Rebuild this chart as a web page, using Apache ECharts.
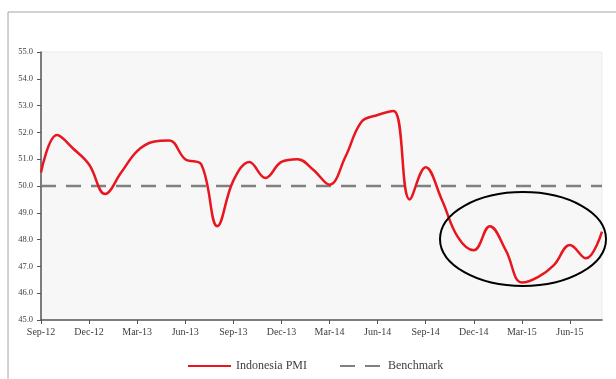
<!DOCTYPE html>
<html>
<head>
<meta charset="utf-8">
<script src="https://cdn.jsdelivr.net/npm/echarts@6/dist/echarts.min.js"></script>
<style>
  html, body { margin: 0; padding: 0; background: #fff; }
  #chart { width: 616px; height: 379px; }
</style>
</head>
<body>
<div id="chart"></div>
<script>
const months = [
  "Sep-12", "Oct-12", "Nov-12", "Dec-12", "Jan-13", "Feb-13", "Mar-13", "Apr-13", "May-13",
  "Jun-13", "Jul-13", "Aug-13", "Sep-13", "Oct-13", "Nov-13", "Dec-13", "Jan-14", "Feb-14",
  "Mar-14", "Apr-14", "May-14", "Jun-14", "Jul-14", "Aug-14", "Sep-14", "Oct-14", "Nov-14",
  "Dec-14", "Jan-15", "Feb-15", "Mar-15", "Apr-15", "May-15", "Jun-15", "Jul-15", "Aug-15"
]

const indonesiaPmi = [
  50.5, 51.9, 51.4, 50.8, 49.7, 50.5, 51.3, 51.65, 51.7,
  51.0, 50.8, 48.5, 50.2, 50.9, 50.3, 50.9, 51.0, 50.6,
  50.05, 51.1, 52.4, 52.65, 52.8, 49.5, 50.7, 49.5, 48.1,
  47.6, 48.5, 47.6, 46.4, 46.6, 47.05, 47.8, 47.3, 48.3
]

const benchmark = [
  50, 50, 50, 50, 50, 50, 50, 50, 50, 50, 50, 50,
  50, 50, 50, 50, 50, 50, 50, 50, 50, 50, 50, 50,
  50, 50, 50, 50, 50, 50, 50, 50, 50, 50, 50, 50
]

const chart = echarts.init(document.getElementById("chart"))

const font = "'Liberation Serif', serif"

const option = {
  backgroundColor: "#ffffff",
  animation: false,
  textStyle: { fontFamily: font },
  grid: {
    left: 41,
    right: 14,
    top: 52,
    bottom: 59,
    containLabel: false,
    outerBoundsMode: "none",
    show: true,
    backgroundColor: "#f7f7f7",
    borderColor: "#ebebeb",
    borderWidth: 1,
  },
  legend: {
    left: 182,
    top: 355,
    itemGap: 32,
    itemWidth: 43,
    itemHeight: 10,
    itemStyle: { opacity: 0 },
    textStyle: { fontFamily: font, fontSize: 12, color: "#404040" },
    data: ["Indonesia PMI", "Benchmark"],
  },
  xAxis: {
    type: "category",
    data: months,
    boundaryGap: false,
    axisLine: { lineStyle: { color: "#555555", width: 1.5 } },
    axisTick: { interval: 2, length: 4, lineStyle: { color: "#555555" } },
    axisLabel: {
      interval: 2,
      margin: 7,
      fontFamily: font,
      fontSize: 10,
      color: "#404040",
    },
    splitLine: { show: false },
  },
  yAxis: {
    type: "value",
    min: 45,
    max: 55,
    interval: 1,
    axisLine: { show: true, lineStyle: { color: "#555555", width: 1.5 } },
    axisTick: { show: true, length: 4, lineStyle: { color: "#555555" } },
    axisLabel: {
      margin: 8,
      fontFamily: font,
      fontSize: 8.5,
      color: "#404040",
      formatter: (v) => v.toFixed(1),
    },
    splitLine: { show: false },
  },
  series: [
    {
      name: "Indonesia PMI",
      type: "line",
      data: indonesiaPmi,
      smooth: 0.4,
      symbol: "none",
      lineStyle: { color: "#e8161e", width: 2.5 },
      itemStyle: { color: "#e8161e" },
      z: 3,
    },
    {
      name: "Benchmark",
      type: "line",
      data: benchmark,
      symbol: "none",
      lineStyle: { color: "#808080", width: 2.5, type: [15, 10] },
      itemStyle: { color: "#808080" },
      z: 2,
    },
  ],
  graphic: [
    {
      type: "line",
      shape: { x1: 8, y1: 12, x2: 616, y2: 12 },
      style: { stroke: "#a6a6a6", lineWidth: 1 },
    },
    {
      type: "line",
      shape: { x1: 8, y1: 12, x2: 8, y2: 379 },
      style: { stroke: "#a6a6a6", lineWidth: 1 },
    },
    {
      type: "ellipse",
      shape: { cx: 523, cy: 239, rx: 83, ry: 47 },
      style: { fill: "none", stroke: "#000000", lineWidth: 2 },
      z: 10,
    },
  ],
}

chart.setOption(option)
</script>
</body>
</html>
